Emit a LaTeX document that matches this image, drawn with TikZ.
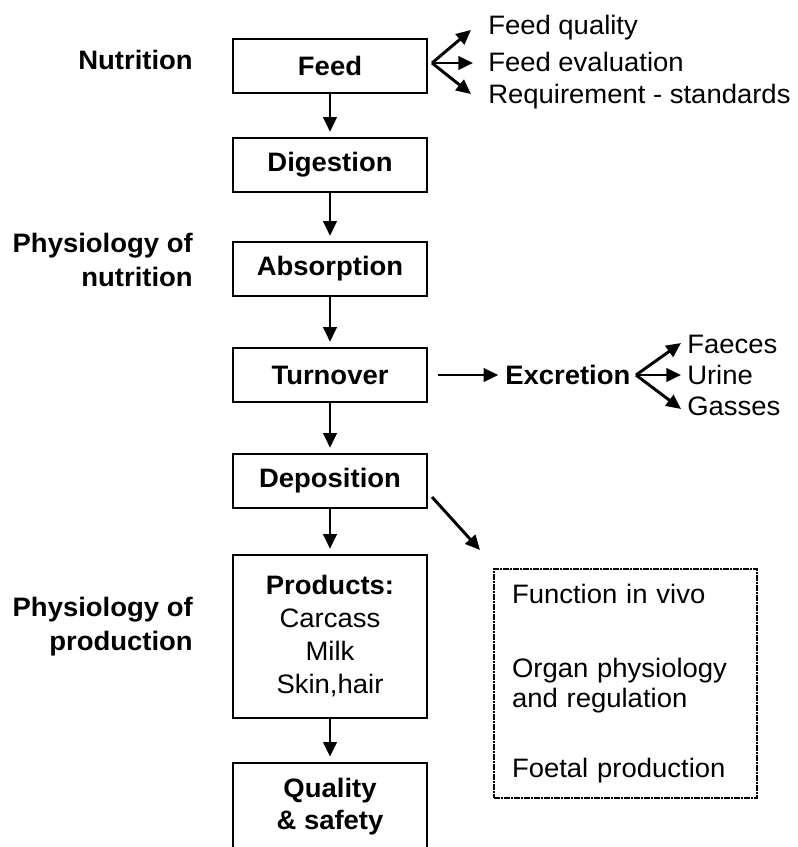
\documentclass[tikz,border=0pt]{standalone}
\usepackage{fontspec}
\setmainfont{Liberation Sans}[FakeStretch=1.03]
\usetikzlibrary{arrows.meta}
\newcommand{\flowfont}{\fontsize{20}{25.5}\selectfont}
\tikzset{
    stage/.style={draw, line width=1.3pt, minimum width=145.5pt, minimum height=40.5pt,
        inner sep=0pt, font=\flowfont\bfseries, align=center},
    side/.style={anchor=east, inner sep=0pt, font=\flowfont\bfseries, align=right},
    item/.style={anchor=west, inner sep=0pt, font=\flowfont},
    flow/.style={-{Triangle[length=11pt,width=10pt]}, line width=2.2pt},
}
\begin{document}
\begin{tikzpicture}[x=0.75pt,y=-0.75pt]
    \useasboundingbox (0,0) rectangle (797,847);
    % main chain
    \node[stage] (feed) at (330,66) {Feed};
    \node[stage] (dig) at (330,165) {Digestion};
    \node[stage] (abs) at (330,269) {Absorption};
    \node[stage] (turn) at (330,375) {Turnover};
    \node[stage] (dep) at (330,481) {Deposition};
    \node[stage, minimum height=122.25pt, font=\fontsize{20}{24.75}\selectfont\bfseries] (prod) at (330,636.5)
        {Products:\\{\mdseries Carcass}\\{\mdseries Milk}\\{\mdseries Skin,hair}};
    \node[stage, minimum height=66pt, anchor=north, font=\fontsize{20}{24}\selectfont\bfseries] (qual) at (330,762)
        {Quality\\\& safety};
    \foreach \a/\b in {feed/dig, dig/abs, abs/turn, turn/dep, dep/prod, prod/qual}
        \draw[flow, shorten >=4pt] (\a) -- (\b);
    % left labels
    \node[side] (nutr) at (193,60) {Nutrition};
    \node[side] (physnut) at (193,260) {Physiology of\\nutrition};
    \node[side] (physprod) at (193,627) {Physiology of\\production};
    % feed fan
    \coordinate (ffork) at (432,63);
    \coordinate (fqtip) at (471,30);
    \coordinate (fetip) at (473,63);
    \coordinate (frtip) at (471,94);
    \node[item] (fq) at (488,28) {Feed quality};
    \node[item] (fe) at (488,62) {Feed evaluation};
    \node[item] (fr) at (488,97) {Requirement - standards};
    \draw[flow] (ffork) -- (fqtip);
    \draw[flow] (ffork) -- (fetip);
    \draw[flow] (ffork) -- (frtip);
    % excretion
    \node[item, font=\flowfont\bfseries] (excr) at (505,375) {Excretion};
    \draw[flow, shorten <=7.5pt, shorten >=5pt] (turn.east) -- (excr.west);
    \coordinate (xfork) at (636,375);
    \coordinate (xftip) at (681,343);
    \coordinate (xutip) at (681,375);
    \coordinate (xgtip) at (681,409);
    \node[item] (faec) at (687,344) {Faeces};
    \node[item] (urin) at (687,375) {Urine};
    \node[item] (gass) at (687,406) {Gasses};
    \draw[flow] (xfork) -- (xftip);
    \draw[flow] (xfork) -- (xutip);
    \draw[flow] (xfork) -- (xgtip);
    % deposition side
    \coordinate (dstart) at (432,497);
    \coordinate (dtip) at (480,550);
    \draw[flow] (dstart) -- (dtip);
    \node[draw, line width=1.5pt, dash pattern=on 4.5pt off 1pt on 1pt off 1pt,
        text width=170.25pt, minimum height=171.75pt, inner xsep=13.5pt, inner ysep=0pt,
        align=left, font=\fontsize{20}{22.5}\selectfont] (vivo) at (625.5,683.5)
        {Function in vivo\\[33pt]Organ physiology\\and regulation\\[30pt]Foetal production};
\end{tikzpicture}
\end{document}
